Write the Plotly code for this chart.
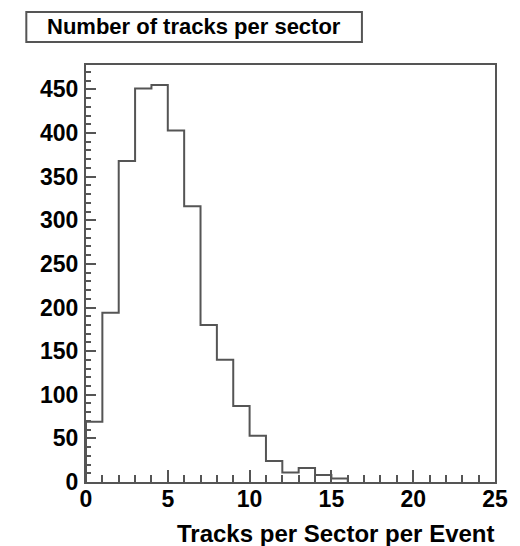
import numpy as np
import plotly.graph_objects as go

# Histogram data: bin counts for bins [0,1), [1,2), ... [15,16)
bin_low = 0
bin_width = 1
counts = [69, 194, 368, 451, 455, 403, 316, 180, 140, 87, 53, 24, 11, 16, 8, 4]
x_ticks = [0, 5, 10, 15, 20, 25]
y_ticks = [0, 50, 100, 150, 200, 250, 300, 350, 400, 450]
title_text = "Number of tracks per sector"
x_title = "Tracks per Sector per Event"

edges = bin_low + bin_width * np.arange(len(counts) + 1)
xs = [edges[0]] + list(edges)
ys = [0] + list(counts) + [0]

line_col = "#555555"
font_fam = "Liberation Sans"

fig = go.Figure()
fig.add_trace(go.Scatter(x=xs, y=ys, mode="lines", line=dict(shape="hv", color=line_col, width=2),
                         hoverinfo="skip", showlegend=False))

L, R, T, B = 86, 16, 65, 64
W, H = 520, 546
pw = W - L - R
ph = H - T - B

fig.update_layout(
    width=W, height=H,
    margin=dict(l=L, r=R, t=T, b=B),
    paper_bgcolor="white", plot_bgcolor="white",
    font=dict(family=font_fam, color="black"),
)
fig.update_xaxes(
    range=[0, 25], tickvals=x_ticks, ticktext=[str(v) for v in x_ticks],
    ticks="inside", ticklen=12, tickwidth=1.5, tickcolor=line_col,
    showline=True, linecolor=line_col, linewidth=2, mirror=True,
    showgrid=False, zeroline=False,
    tickfont=dict(size=23, family=font_fam, weight="bold"),
    minor=dict(ticks="inside", dtick=1, ticklen=7, tickwidth=1.5, tickcolor=line_col, showgrid=False),
    ticklabelstandoff=-5,
)
fig.update_yaxes(
    range=[0, 478], tickvals=y_ticks, ticktext=[str(v) for v in y_ticks],
    ticks="inside", ticklen=10, tickwidth=1.5, tickcolor=line_col,
    showline=True, linecolor=line_col, linewidth=2, mirror=True,
    showgrid=False, zeroline=False,
    tickfont=dict(size=23, family=font_fam, weight="bold"),
    minor=dict(ticks="inside", dtick=10, ticklen=5, tickwidth=1.5, tickcolor=line_col, showgrid=False),
    ticklabelstandoff=1,
)

# title box
bx0, bx1, by0, by1 = 25, 368, 12, 42
fig.add_shape(type="rect", xref="paper", yref="paper",
              x0=(bx0 - L) / pw, x1=(bx1 - L) / pw,
              y0=(H - B - by1) / ph, y1=(H - B - by0) / ph,
              line=dict(color=line_col, width=2), fillcolor="white")
fig.add_annotation(xref="paper", yref="paper",
                   x=((bx0 + bx1) / 2 - L) / pw, y=(H - B - (by0 + by1) / 2) / ph,
                   text=title_text, showarrow=False, xanchor="center", yanchor="middle",
                   font=dict(size=22, family=font_fam, weight="bold", color="black"))
# x axis title, right aligned
fig.add_annotation(xref="paper", yref="paper",
                   x=(505 - L) / pw, y=(H - B - 533) / ph,
                   text=x_title, showarrow=False, xanchor="right", yanchor="middle",
                   font=dict(size=24, family=font_fam, weight="bold", color="black"))

fig.write_html("out.html")
